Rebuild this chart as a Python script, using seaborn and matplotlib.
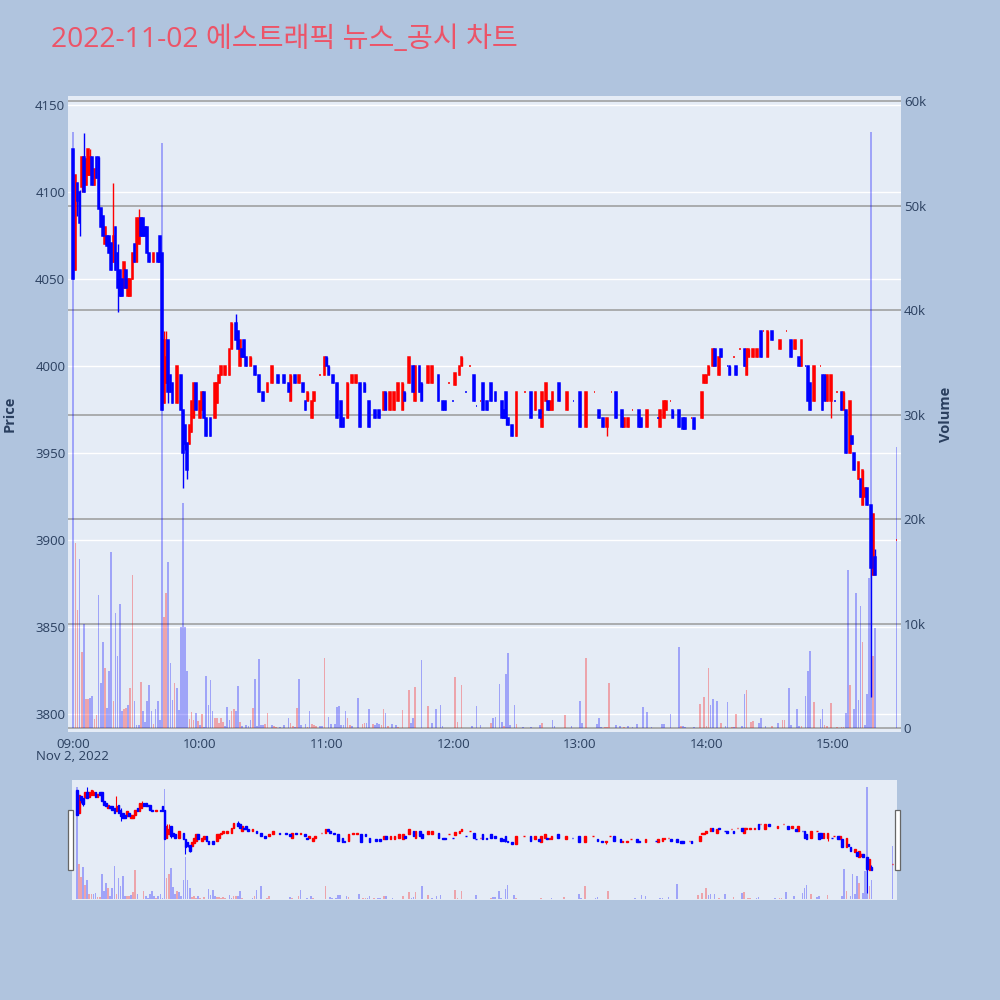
import numpy as np
import pandas as pd
import matplotlib
matplotlib.use("Agg")
import matplotlib.pyplot as plt
from matplotlib.patches import Rectangle
import seaborn as sns

# 1-minute candles, minutes after 09:00
c_min = [0, 1, 2, 3, 4, 5, 6, 7, 8, 9, 10, 11, 12, 13, 14, 15, 16, 17, 18, 19,
         20, 21, 22, 23, 24, 25, 26, 27, 28, 29, 30, 31, 32, 33, 34, 35, 36, 38, 40, 41,
         42, 43, 44, 45, 46, 47, 49, 51, 52, 53, 54, 55, 56, 57, 58, 60, 61, 62, 63, 65,
         67, 68, 69, 70, 72, 74, 75, 77, 78, 79, 80, 81, 82, 84, 86, 88, 90, 92, 94, 97,
         100, 102, 103, 105, 107, 109, 110, 111, 113, 114, 117, 119, 120, 121, 123, 125, 127, 128, 130, 132,
         134, 136, 138, 140, 143, 145, 147, 148, 150, 152, 154, 156, 157, 159, 161, 162, 164, 165, 168, 170,
         173, 175, 176, 178, 180, 181, 183, 184, 186, 188, 190, 191, 193, 194, 196, 198, 200, 203, 204, 205,
         206, 208, 210, 214, 217, 219, 221, 222, 224, 225, 226, 227, 230, 234, 237, 240, 243, 247, 249, 251,
         253, 255, 257, 260, 261, 263, 265, 268, 269, 272, 277, 278, 280, 281, 283, 284, 287, 289, 290, 293,
         294, 298, 299, 300, 301, 303, 304, 306, 307, 310, 311, 313, 314, 316, 318, 319, 320, 322, 324, 326,
         327, 329, 331, 335, 338, 340, 342, 344, 345, 347, 348, 349, 351, 354, 355, 356, 357, 359, 361, 362,
         364, 365, 366, 368, 369, 370, 372, 373, 374, 375, 376, 378, 379, 380, 390]
c_open = [4125, 4055, 4105, 4100, 4103, 4120, 4104, 4110, 4110, 4120, 4104, 4120, 4120, 4091, 4086, 4070, 4075, 4075, 4071, 4060,
          4080, 4065, 4055, 4050, 4045, 4055, 4040, 4040, 4050, 4070, 4060, 4070, 4085, 4085, 4080, 4080, 4065, 4060, 4065, 4075,
          4065, 3979, 3990, 4015, 3995, 3990, 3979, 3995, 3975, 3966, 3956, 3955, 3962, 3970, 3990, 3970, 3975, 3985, 3970, 3970,
          3970, 3979, 3990, 3995, 3995, 3995, 4010, 4025, 4020, 4000, 4010, 4015, 4005, 4000, 4000, 3995, 3985, 3985, 3990, 3995,
          3995, 3990, 3980, 3995, 3990, 3990, 3980, 3980, 3970, 3980, 3995, 3995, 4005, 4000, 3995, 3990, 3980, 3970, 3970, 3990,
          3990, 3990, 3990, 3980, 3975, 3975, 3975, 3985, 3975, 3975, 3980, 3975, 3985, 3990, 4000, 3980, 4000, 3990, 3990, 3990,
          3995, 3980, 3980, 3990, 3980, 3989, 3995, 4000, 3985, 4000, 3995, 3977, 3980, 3990, 3980, 3990, 3985, 3980, 3975, 3985,
          3970, 3966, 3960, 3985, 3985, 3975, 3975, 3965, 3980, 3980, 3975, 3975, 3990, 3975, 3980, 3985, 3965, 3985, 3975, 3970,
          3965, 3985, 3985, 3975, 3965, 3965, 3975, 3975, 3970, 3965, 3970, 3965, 3970, 3975, 3980, 3975, 3975, 3970, 3970, 3970,
          3970, 3970, 3990, 3990, 3995, 4000, 4010, 3995, 4010, 4000, 4000, 4005, 4000, 4010, 4010, 3995, 4005, 4005, 4005, 4020,
          4020, 4005, 4020, 4010, 4020, 4015, 4010, 4005, 4000, 4000, 4000, 3990, 3980, 4000, 3995, 3995, 3980, 3980, 3980, 3985,
          3985, 3975, 3975, 3950, 3960, 3950, 3935, 3935, 3920, 3925, 3930, 3920, 3880, 3890, 3900]
c_high = [4125, 4110, 4105, 4101, 4120, 4134, 4119, 4125, 4125, 4120, 4113, 4120, 4120, 4091, 4086, 4080, 4075, 4075, 4071, 4105,
          4080, 4070, 4055, 4050, 4060, 4055, 4050, 4050, 4065, 4070, 4085, 4090, 4085, 4085, 4080, 4080, 4065, 4065, 4065, 4075,
          4065, 4020, 4020, 4015, 3995, 3990, 4000, 3995, 3975, 3966, 3956, 3966, 3980, 3990, 3990, 3980, 3985, 3985, 3970, 3970,
          3990, 3990, 3995, 4000, 4000, 4010, 4025, 4030, 4020, 4015, 4010, 4015, 4005, 4005, 4000, 3995, 3985, 3990, 4000, 3995,
          3995, 3990, 3995, 3995, 3995, 3990, 3980, 3985, 3980, 3985, 3995, 4005, 4005, 4000, 3995, 3990, 3980, 3970, 3990, 3995,
          3995, 3990, 3990, 3980, 3975, 3975, 3985, 3985, 3985, 3985, 3990, 3990, 3985, 4005, 4000, 4000, 4000, 3990, 4000, 4000,
          3995, 3980, 3980, 3990, 3980, 3996, 4000, 4005, 3985, 4000, 3995, 3977, 3980, 3990, 3980, 3990, 3985, 3980, 3975, 3985,
          3970, 3966, 3985, 3985, 3985, 3985, 3975, 3985, 3990, 3980, 3980, 3985, 3990, 3985, 3980, 3985, 3985, 3985, 3975, 3970,
          3970, 3985, 3985, 3975, 3970, 3970, 3975, 3975, 3970, 3975, 3970, 3975, 3980, 3980, 3980, 3975, 3975, 3970, 3970, 3970,
          3970, 3985, 3995, 3995, 4000, 4010, 4010, 4005, 4010, 4000, 4000, 4005, 4000, 4010, 4010, 4010, 4010, 4010, 4010, 4020,
          4020, 4020, 4020, 4015, 4020, 4015, 4015, 4005, 4015, 4000, 4000, 3990, 4000, 4000, 3995, 3995, 3995, 3995, 3980, 3985,
          3985, 3985, 3975, 3980, 3960, 3950, 3945, 3935, 3940, 3930, 3930, 3920, 3915, 3895, 3900]
c_low = [4050, 4055, 4086, 4075, 4100, 4100, 4104, 4110, 4110, 4104, 4104, 4108, 4090, 4080, 4075, 4070, 4069, 4065, 4055, 4060,
         4055, 4031, 4040, 4040, 4045, 4045, 4040, 4040, 4050, 4060, 4060, 4070, 4075, 4075, 4075, 4065, 4060, 4060, 4060, 4060,
         3975, 3979, 3990, 3979, 3985, 3979, 3979, 3975, 3930, 3952, 3935, 3955, 3962, 3970, 3975, 3970, 3975, 3970, 3960, 3960,
         3970, 3979, 3990, 3995, 3995, 3995, 4010, 4015, 4010, 4000, 4005, 4005, 4000, 4000, 3995, 3985, 3980, 3985, 3990, 3990,
         3990, 3985, 3980, 3990, 3990, 3985, 3975, 3980, 3970, 3980, 3995, 3995, 4000, 3995, 3990, 3970, 3965, 3965, 3970, 3990,
         3990, 3965, 3985, 3965, 3970, 3970, 3975, 3975, 3975, 3975, 3980, 3975, 3980, 3990, 3985, 3980, 3985, 3980, 3990, 3990,
         3980, 3975, 3975, 3990, 3980, 3989, 3995, 4000, 3985, 4000, 3980, 3977, 3980, 3975, 3975, 3980, 3980, 3970, 3970, 3966,
         3966, 3960, 3960, 3985, 3970, 3975, 3970, 3965, 3980, 3975, 3975, 3975, 3980, 3975, 3980, 3965, 3965, 3985, 3970, 3965,
         3960, 3985, 3970, 3965, 3965, 3965, 3975, 3965, 3965, 3965, 3970, 3965, 3970, 3975, 3980, 3970, 3965, 3964, 3964, 3970,
         3964, 3970, 3990, 3990, 3995, 4000, 4000, 3995, 4005, 4000, 3995, 4005, 3995, 4010, 4000, 3995, 4005, 4005, 4005, 4005,
         4020, 4005, 4015, 4010, 4020, 4005, 4010, 4000, 4000, 4000, 3980, 3975, 3980, 4000, 3975, 3980, 3980, 3970, 3980, 3985,
         3975, 3975, 3950, 3950, 3955, 3940, 3935, 3925, 3920, 3925, 3920, 3810, 3880, 3880, 3900]
c_close = [4050, 4110, 4095, 4082, 4120, 4100, 4119, 4125, 4120, 4104, 4113, 4108, 4090, 4080, 4075, 4080, 4069, 4065, 4055, 4075,
           4055, 4045, 4040, 4040, 4060, 4045, 4050, 4050, 4065, 4060, 4085, 4085, 4075, 4075, 4075, 4065, 4060, 4065, 4060, 4060,
           3975, 4015, 4005, 3985, 3985, 3979, 4000, 3975, 3950, 3955, 3940, 3966, 3980, 3990, 3975, 3980, 3985, 3970, 3960, 3960,
           3990, 3990, 3995, 4000, 4000, 4010, 4025, 4015, 4010, 4015, 4005, 4005, 4000, 4005, 3995, 3985, 3980, 3990, 4000, 3990,
           3990, 3985, 3995, 3990, 3995, 3985, 3975, 3985, 3980, 3985, 3995, 4005, 4000, 3995, 3990, 3970, 3965, 3965, 3990, 3995,
           3995, 3965, 3985, 3965, 3970, 3970, 3985, 3975, 3985, 3985, 3990, 3990, 3980, 4005, 3985, 4000, 3985, 3980, 4000, 4000,
           3980, 3975, 3975, 3990, 3980, 3996, 4000, 4005, 3985, 4000, 3980, 3977, 3980, 3975, 3975, 3980, 3980, 3970, 3970, 3970,
           3966, 3960, 3985, 3985, 3970, 3985, 3970, 3985, 3990, 3975, 3980, 3985, 3980, 3985, 3980, 3965, 3985, 3985, 3970, 3965,
           3970, 3985, 3970, 3965, 3970, 3970, 3975, 3965, 3965, 3975, 3970, 3975, 3980, 3980, 3980, 3970, 3965, 3964, 3964, 3970,
           3964, 3985, 3995, 3995, 4000, 4010, 4000, 4005, 4005, 4000, 3995, 4005, 3995, 4010, 4000, 4010, 4010, 4010, 4010, 4005,
           4020, 4020, 4015, 4015, 4020, 4005, 4015, 4000, 4015, 4000, 3980, 3975, 4000, 4000, 3975, 3980, 3995, 3995, 3980, 3985,
           3975, 3985, 3950, 3980, 3955, 3940, 3945, 3925, 3940, 3930, 3920, 3884, 3915, 3880, 3900]

# volume bars: minute, shares, 1 = rising candle (red) / 0 = falling (blue)
v_min = [0, 1, 2, 3, 4, 5, 6, 7, 8, 9, 10, 11, 12, 13, 14, 15, 16, 17, 18, 19,
         20, 21, 22, 23, 24, 25, 26, 27, 28, 29, 30, 31, 32, 33, 34, 35, 36, 37, 38, 39,
         40, 41, 42, 43, 44, 45, 46, 47, 48, 49, 50, 51, 52, 53, 54, 55, 56, 57, 58, 59,
         60, 61, 62, 63, 64, 65, 66, 67, 68, 69, 70, 71, 72, 73, 74, 75, 76, 77, 78, 79,
         80, 82, 83, 84, 85, 86, 87, 88, 89, 90, 91, 92, 94, 95, 96, 98, 100, 102, 103, 104,
         105, 106, 107, 108, 110, 111, 112, 113, 114, 115, 117, 118, 119, 121, 122, 124, 125, 126, 127, 128,
         129, 130, 131, 132, 135, 137, 138, 139, 140, 142, 143, 144, 145, 146, 147, 148, 149, 151, 153, 154,
         156, 159, 160, 161, 162, 165, 168, 170, 172, 174, 175, 181, 182, 184, 189, 191, 193, 198, 199, 200,
         202, 203, 204, 205, 206, 207, 209, 210, 213, 217, 221, 222, 227, 228, 233, 236, 240, 241, 243, 248,
         249, 250, 252, 253, 254, 257, 259, 261, 263, 265, 267, 270, 272, 274, 279, 280, 283, 287, 288, 289,
         290, 294, 297, 299, 300, 301, 302, 303, 305, 307, 309, 310, 312, 313, 314, 317, 318, 319, 321, 322,
         325, 326, 328, 331, 334, 336, 337, 339, 340, 343, 344, 345, 347, 348, 349, 351, 354, 355, 356, 357,
         359, 362, 364, 365, 366, 367, 368, 370, 371, 372, 373, 374, 375, 376, 377, 378, 379, 380, 390]
v_qty = [57000, 17700, 11300, 16200, 7300, 10000, 2800, 2800, 2900, 3100, 900, 1200, 12700, 4300, 8200, 5700, 1900, 5500, 16800, 2600,
         11000, 6900, 11900, 1600, 1800, 1900, 2200, 3800, 14600, 2600, 300, 300, 4400, 1600, 600, 2600, 4100, 1600, 400, 1800,
         2600, 800, 56000, 10600, 12900, 15900, 6200, 2700, 4300, 3800, 1700, 9700, 21500, 9700, 5500, 900, 1500, 800, 1400, 700,
         300, 1300, 100, 5000, 2200, 4600, 1600, 1000, 1000, 500, 1000, 600, 200, 2000, 800, 1600, 1800, 1600, 4000, 600,
         200, 300, 200, 800, 1900, 4700, 200, 6600, 300, 300, 400, 1400, 300, 200, 100, 100, 300, 1000, 500, 200,
         100, 1900, 4700, 300, 400, 100, 1600, 400, 300, 200, 200, 200, 6700, 1100, 400, 400, 2000, 2100, 300, 300,
         1600, 1000, 300, 200, 2900, 400, 500, 500, 1800, 400, 300, 500, 400, 300, 1800, 1400, 200, 400, 300, 100,
         1700, 3600, 500, 1000, 3900, 6500, 2100, 500, 1800, 2200, 200, 4900, 600, 4100, 200, 2100, 300, 500, 1000, 1100,
         4200, 600, 200, 5200, 7200, 300, 2200, 400, 100, 100, 300, 500, 800, 200, 1200, 200, 2600, 500, 6700, 400,
         1000, 100, 100, 100, 4300, 300, 200, 100, 200, 100, 400, 2000, 1500, 100, 400, 400, 1300, 7800, 200, 200,
         100, 100, 2300, 3000, 200, 5700, 2200, 2800, 2600, 500, 200, 2500, 100, 100, 1300, 200, 3300, 3600, 600, 700,
         500, 1000, 200, 200, 500, 800, 800, 3800, 300, 1800, 200, 200, 3100, 5500, 7400, 2500, 900, 1800, 300, 200,
         2400, 100, 100, 100, 1400, 15100, 4100, 1800, 12900, 2700, 11700, 8200, 300, 3300, 14400, 57000, 6900, 9600, 26900]
v_up = [0, 1, 1, 0, 1, 0, 1, 1, 0, 0, 1, 1, 0, 0, 0, 1, 0, 0, 0, 1,
        0, 0, 0, 0, 1, 1, 0, 1, 1, 0, 0, 0, 1, 0, 0, 0, 0, 0, 1, 0,
        0, 0, 0, 1, 1, 0, 0, 0, 1, 0, 0, 0, 0, 0, 0, 1, 1, 1, 0, 1,
        0, 1, 0, 0, 0, 0, 0, 1, 1, 1, 1, 1, 0, 0, 0, 1, 1, 0, 0, 1,
        0, 0, 0, 0, 1, 0, 0, 0, 0, 0, 1, 1, 0, 1, 1, 0, 0, 0, 1, 1,
        0, 1, 0, 0, 0, 1, 0, 1, 1, 1, 0, 0, 1, 0, 0, 0, 0, 0, 0, 0,
        0, 1, 1, 0, 0, 1, 1, 0, 0, 1, 0, 0, 0, 1, 1, 0, 1, 0, 0, 1,
        1, 1, 0, 0, 1, 0, 1, 0, 0, 0, 0, 1, 1, 1, 0, 0, 0, 1, 0, 0,
        0, 0, 1, 0, 0, 0, 0, 1, 0, 0, 0, 1, 0, 0, 1, 0, 0, 0, 1, 0,
        0, 0, 1, 1, 1, 0, 0, 1, 0, 0, 0, 0, 0, 0, 0, 0, 0, 0, 1, 0,
        0, 0, 1, 1, 1, 1, 0, 0, 0, 1, 0, 0, 1, 0, 1, 0, 0, 1, 1, 1,
        0, 0, 0, 1, 0, 1, 1, 0, 0, 0, 0, 1, 0, 0, 0, 1, 0, 0, 1, 1,
        1, 1, 1, 1, 0, 0, 1, 0, 0, 0, 0, 1, 0, 0, 0, 0, 1, 0, 0]

tick_min = [0, 60, 120, 180, 240, 300, 360]
tick_lbl = ["09:00", "10:00", "11:00", "12:00", "13:00", "14:00", "15:00"]
price_ticks = [3800, 3850, 3900, 3950, 4000, 4050, 4100, 4150]
vol_ticks = [0, 10000, 20000, 30000, 40000, 50000, 60000]
vol_lbl = ["0", "10k", "20k", "30k", "40k", "50k", "60k"]

title = "2022-11-02 에스트래픽 뉴스_공시 차트"

candles = pd.DataFrame({"t": c_min, "open": c_open, "high": c_high,
                        "low": c_low, "close": c_close})
prev = candles["close"].shift(1).fillna(candles["open"])
candles["up"] = (candles["close"] > candles["open"]) | (
    (candles["close"] == candles["open"]) & (candles["close"] >= prev))
vols = pd.DataFrame({"t": v_min, "qty": v_qty, "up": np.array(v_up) == 1})

sns.set_theme(style="white")
plt.rcParams["font.family"] = ["Open Sans", "Noto Sans CJK KR", "DejaVu Sans"]

TXT = "#2a3f5f"
PLOT_BG = "#E5ECF6"
XLIM = (-2.5, 392.2)
PLIM = (3789.7, 4155.2)
VLIM = (-380, 60480)


def draw_candles(ax, body_w, lw_body, lw_wick):
    for up, col in [(True, "#FF0000"), (False, "#0000FF")]:
        d = candles[candles["up"] == up]
        ax.vlines(d["t"], d["low"], d["high"], color=col, lw=lw_wick, zorder=3)
        ax.bar(d["t"], d["close"] - d["open"], bottom=d["open"], width=body_w,
               color=col, edgecolor=col, linewidth=lw_body, zorder=3)


def draw_volume(ax, w):
    for up, col in [(True, "#FF0000"), (False, "#0000FF")]:
        d = vols[vols["up"] == up]
        ax.bar(d["t"], d["qty"], width=w, color=col, alpha=0.3, linewidth=0, zorder=2)


fig = plt.figure(figsize=(10, 10), dpi=100)
fig.patch.set_facecolor("#B0C4DE")

# main chart
ax = fig.add_axes([0.068, 0.268, 0.833, 0.636])
axv = ax.twinx()
ax.set_zorder(axv.get_zorder() + 1)
ax.patch.set_visible(False)
axv.patch.set_visible(True)
axv.set_facecolor(PLOT_BG)

draw_volume(axv, 0.8)
draw_candles(ax, 0.8, 1.1, 1.0)

ax.set_xlim(*XLIM)
ax.set_ylim(*PLIM)
axv.set_ylim(*VLIM)

# grid: white price lines and grey volume lines, both under the marks
for p in price_ticks:
    v = VLIM[0] + (p - PLIM[0]) / (PLIM[1] - PLIM[0]) * (VLIM[1] - VLIM[0])
    axv.axhline(v, color="white", lw=1.0, zorder=0.5)
for v in vol_ticks:
    axv.axhline(v, color="#9a9a9a", lw=1.1, zorder=0.6)

ax.set_yticks(price_ticks)
ax.set_yticklabels([str(p) for p in price_ticks])
axv.set_yticks(vol_ticks)
axv.set_yticklabels(vol_lbl)
ax.set_xticks(tick_min)
ax.set_xticklabels(tick_lbl)
ax.tick_params(axis="y", length=0, pad=2, labelsize=9.5, labelcolor=TXT)
ax.tick_params(axis="x", length=0, pad=4, labelsize=9.5, labelcolor=TXT)
axv.tick_params(axis="y", length=0, pad=2, labelsize=9.5, labelcolor=TXT)
ax.grid(False)
axv.grid(False)
for a in (ax, axv):
    for s in a.spines.values():
        s.set_visible(False)

fig.text(0.0365, 1 - 0.757, "Nov 2, 2022", fontsize=9.5, color=TXT, va="center", ha="left")
fig.text(0.010, 1 - 0.414, "Price", rotation=90, fontsize=10.5, fontweight="bold",
         color=TXT, va="center", ha="center")
fig.text(0.946, 1 - 0.414, "Volume", rotation=90, fontsize=10.5, fontweight="bold",
         color=TXT, va="center", ha="center")
fig.text(0.051, 1 - 0.040, title, fontsize=20.3, color="#EC5468", va="center", ha="left")

# range slider
sl = fig.add_axes([0.0715, 0.100, 0.8255, 0.120])
slv = sl.twinx()
sl.set_zorder(slv.get_zorder() + 1)
sl.patch.set_visible(False)
slv.patch.set_visible(True)
slv.set_facecolor(PLOT_BG)
draw_volume(slv, 0.8)
draw_candles(sl, 0.8, 1.0, 0.8)
sl.set_xlim(*XLIM)
sl.set_ylim(*PLIM)
slv.set_ylim(*VLIM)
for a in (sl, slv):
    a.set_xticks([])
    a.set_yticks([])
    a.grid(False)
    for s in a.spines.values():
        s.set_visible(False)

for x0 in (0.068, 0.8952):
    fig.patches.append(Rectangle((x0, 0.130), 0.0045, 0.060, transform=fig.transFigure,
                                 facecolor="white", edgecolor="#666666", lw=0.9))

fig.savefig("out.png", dpi=100, facecolor=fig.get_facecolor())
